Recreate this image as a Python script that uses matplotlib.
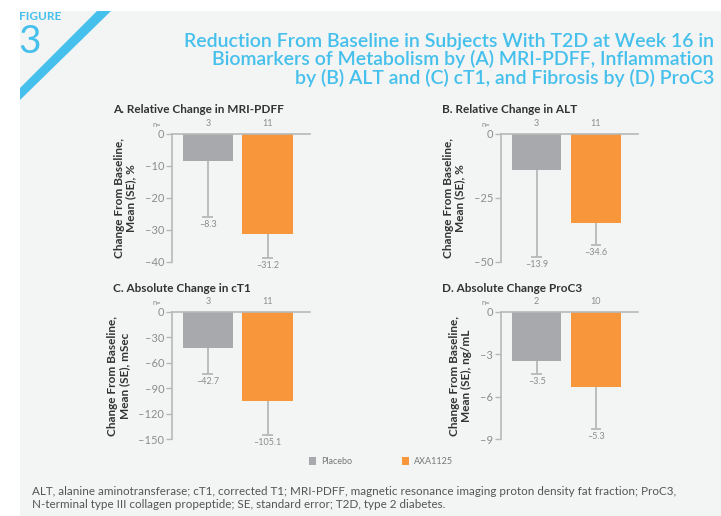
import numpy as np
import matplotlib
matplotlib.use('Agg')
import matplotlib.pyplot as plt
from matplotlib.patches import Rectangle, Polygon

plt.rcParams['font.family'] = ['Lato', 'DejaVu Sans']

# data
groups = ['Placebo', 'AXA1125']
panel_titles = ['A. Relative Change in MRI-PDFF', 'B. Relative Change in ALT',
                'C. Absolute Change in cT1', 'D. Absolute Change ProC3']
ylabels = ['Change From Baseline,\nMean (SE), %', 'Change From Baseline,\nMean (SE), %',
           'Change From Baseline,\nMean (SE), mSec', 'Change From Baseline,\nMean (SE), ng/mL']
n_counts = [[3, 11], [3, 11], [3, 11], [2, 10]]
means = [[-8.3, -31.2], [-13.9, -34.6], [-42.7, -105.1], [-3.5, -5.3]]
se = [[17.7, 7.6], [34.0, 8.7], [30.5, 40.5], [0.9, 3.0]]
ylims = [-40, -50, -150, -9]
yticks = [[0, -10, -20, -30, -40], [0, -25, -50], [0, -30, -60, -90, -120, -150], [0, -3, -6, -9]]

BG = '#f3f4f4'
BLUE = '#45c0ec'
GREY_BAR = '#a7a9ac'
ORANGE = '#f7963a'
AXIS = '#b8b8b8'
TICK = '#8c8c8c'
DARK = '#333333'

W, H = 721, 516
fig = plt.figure(figsize=(7.21, 5.16), dpi=100)
fig.patch.set_facecolor('white')

# grey panel and blue stripe
fig.patches.append(Rectangle((20 / W, 0), 1 - 20 / W, 1 - 11 / H, transform=fig.transFigure,
                             facecolor=BG, edgecolor='none', zorder=-2))
fig.patches.append(Polygon([(20 / W, 1 - 100 / H), (20 / W, 1 - 88 / H),
                            (97 / W, 1 - 11 / H), (111 / W, 1 - 11 / H)],
                           closed=True, transform=fig.transFigure,
                           facecolor=BLUE, edgecolor='none', zorder=-1))

fig.text(19 / W, 1 - 16 / H, 'FIGURE', color=BLUE, fontsize=8.5, fontweight='bold',
         ha='left', va='center')
fig.text(18 / W, 1 - 42 / H, '3', color=BLUE, fontsize=28, ha='left', va='center')
fig.text(714 / W, 1 - 60 / H,
         'Reduction From Baseline in Subjects With T2D at Week 16 in\n'
         'Biomarkers of Metabolism by (A) MRI-PDFF, Inflammation\n'
         'by (B) ALT and (C) cT1, and Fibrosis by (D) ProC3',
         color=BLUE, fontsize=14, fontweight='semibold', ha='right', va='center',
         linespacing=1.05)

# axes boxes in pixels: left, top, right, bottom
boxes = [(172, 134, 310, 262), (501, 134, 638, 262),
         (172, 312, 310, 439), (501, 312, 638, 439)]

for i, (l, t, r, b) in enumerate(boxes):
    ax = fig.add_axes([l / W, 1 - b / H, (r - l) / W, (b - t) / H])
    ax.set_facecolor('none')
    x = np.arange(2)
    ax.bar(x, means[i], width=0.84, color=[GREY_BAR, ORANGE], zorder=2)
    lo = np.array(means[i]) - np.array(se[i])
    ax.vlines(x, lo, means[i], color=AXIS, lw=1.3, zorder=1)
    ax.hlines(lo, x - 0.09, x + 0.09, color=AXIS, lw=1.3, zorder=1)
    ax.set_xlim(-0.6, 1.71)
    ax.set_ylim(ylims[i], 0)
    ax.set_yticks(yticks[i])
    ax.set_yticklabels([str(v).replace('-', '\u2013') for v in yticks[i]])
    ax.set_xticks([])
    for s in ['top', 'right', 'bottom']:
        ax.spines[s].set_visible(False)
    ax.spines['left'].set_color(AXIS)
    ax.spines['left'].set_linewidth(1.2)
    ax.axhline(0, color=AXIS, lw=1.2, zorder=3, clip_on=False)
    ax.tick_params(axis='y', colors=AXIS, labelcolor=TICK, labelsize=8,
                   length=4, width=1.0, pad=1.5)
    rng = -ylims[i]
    for j in range(2):
        ax.text(x[j], lo[j] - rng * 0.025, str(means[i][j]).replace('-', '\u2013'),
                ha='center', va='top', fontsize=6.5, color=TICK)
        ax.text(x[j], rng * 0.05, str(n_counts[i][j]), ha='center', va='bottom',
                fontsize=6.5, color=TICK, clip_on=False)
    ax.text(-0.86, rng * 0.05, 'n=', ha='center', va='bottom', fontsize=5.5,
            color=TICK, clip_on=False)
    ax.set_ylabel(ylabels[i], fontsize=8.5, fontweight='bold', color=DARK,
                  labelpad=6, linespacing=1.1)
    fig.text((l - 59) / W, 1 - (t - 24) / H, panel_titles[i], fontsize=8.5,
             fontweight='bold', color=DARK, ha='left', va='center')

# legend
for xp, lab, col in [(309, 'Placebo', GREY_BAR), (402, 'AXA1125', ORANGE)]:
    fig.patches.append(Rectangle((xp / W, 1 - 465 / H), 7 / W, 8 / H,
                                 transform=fig.transFigure, facecolor=col,
                                 edgecolor='none'))
    fig.text((xp + 12) / W, 1 - 461 / H, lab, fontsize=6.5, color='#777777',
             ha='left', va='center')

fig.text(32 / W, 1 - 498 / H,
         'ALT, alanine aminotransferase; cT1, corrected T1; MRI-PDFF, magnetic resonance '
         'imaging proton density fat fraction; ProC3,\n'
         'N-terminal type III collagen propeptide; SE, standard error; T2D, type 2 diabetes.',
         fontsize=8.4, color='#555555', ha='left', va='center', linespacing=1.25)

plt.savefig('out.png', dpi=100, facecolor=fig.get_facecolor())
plt.close()
